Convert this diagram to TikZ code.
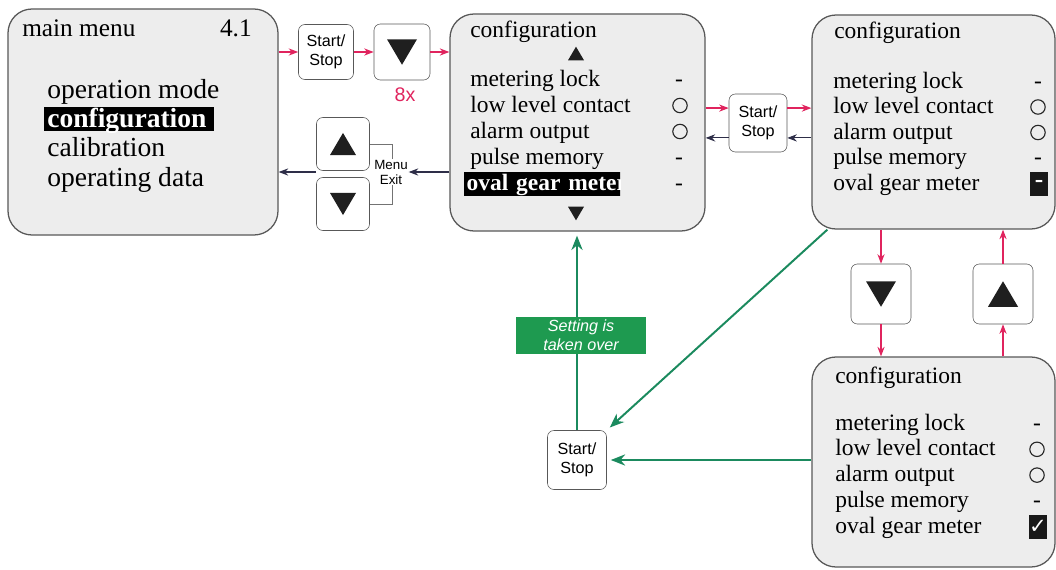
\documentclass[tikz,border=0pt]{standalone}
\usepackage{fontspec}
\setmainfont{Liberation Serif}
\setsansfont{Liberation Sans}
\newfontfamily\mnsym{DejaVu Sans}
\usetikzlibrary{arrows.meta}

\definecolor{cred}{HTML}{E0245E}
\definecolor{cnavy}{HTML}{2E2E48}
\definecolor{cgrn}{HTML}{1B8A5E}
\definecolor{ctag}{HTML}{1E9A50}
\definecolor{cfill}{HTML}{EDEDED}
\definecolor{cline}{HTML}{585858}

\tikzset{mnscr/.style={draw=cline,fill=cfill,rounded corners=6mm,line width=0.9pt},
         mnbtn/.style={draw=cline,fill=white,rounded corners=1.6mm,minimum size=14mm,inner sep=0pt,
                       font=\sffamily\fontsize{11.5}{13.5}\selectfont,align=center},
         mnhead/.style={anchor=base west,inner sep=0pt,font=\fontsize{18}{21}\selectfont},
         mnbig/.style={anchor=base west,inner sep=0pt,font=\fontsize{19.6}{23}\selectfont},
         mntxt/.style={anchor=base west,inner sep=0pt,font=\fontsize{16.7}{20}\selectfont},
         mnsel/.style={fill=black,text=white,inner xsep=0.75mm,inner ysep=0pt,text height=14.2pt,
                       text depth=3pt,align=left,execute at begin node=\bfseries},
         mndash/.style={anchor=base,inner sep=0pt,font=\fontsize{16.7}{20}\selectfont},
         mncirc/.style={circle,draw=black!85,line width=0.8pt,minimum size=3.6mm,inner sep=0pt},
         mnchk/.style={fill=black!90,minimum width=4.4mm,minimum height=6mm,inner sep=0pt,text=white},
         mntri/.style={fill=black!88},
         mnsmall/.style={font=\sffamily\fontsize{9.5}{10.7}\selectfont,align=center,fill=white,inner sep=0.5pt},
         mntag/.style={fill=ctag,text=white,minimum width=32.5mm,minimum height=9.25mm,inner sep=0pt,
                       font=\sffamily\itshape\fontsize{11.5}{13.5}\selectfont,align=center},
         mnbrk/.style={draw=black!55,line width=0.6pt},
         arrred/.style={draw=cred,line width=0.85pt,-{Stealth[length=2.4mm,width=1.8mm]}},
         arrnavy/.style={draw=cnavy,line width=0.75pt,-{Stealth[length=2.4mm,width=1.8mm]}},
         arrgrn/.style={draw=cgrn,line width=1.4pt,shorten >=1mm,-{Stealth[length=3.6mm,width=2.8mm]}}}

\newcommand{\mndown}[2]{\fill[mntri,shift={(#1)},scale=#2] (-1,-0.85) -- (1,-0.85) -- (0,0.85) -- cycle;}
\newcommand{\mnup}[2]{\fill[mntri,shift={(#1)},scale=#2] (-1,0.85) -- (1,0.85) -- (0,-0.85) -- cycle;}

\begin{document}
\begin{tikzpicture}[x=0.25mm,y=-0.25mm]
  \useasboundingbox (0,0) rectangle (1056,569);
  % screens
  \node[mnscr,minimum width=67.5mm,minimum height=56.5mm] (main) at (143,122) {};
  \node[mnscr,minimum width=63.75mm,minimum height=54.25mm] (cfgA) at (577.5,122.5) {};
  \node[mnscr,minimum width=60.75mm,minimum height=53.5mm] (cfgB) at (933.5,122) {};
  \node[mnscr,minimum width=60.75mm,minimum height=52.5mm] (cfgC) at (933.5,462) {};
  % main menu
  \node[mnhead] (mtitle) at (22,36) {main menu};
  \node[mnhead,anchor=base east] (mver) at (252,36) {4.1};
  \node[mnbig] (m0) at (47,98) {operation mode};
  \node[mnbig,mnsel,text width=41mm] (m1) at (44,127) {configuration};
  \node[mnbig] (m2) at (47,156.5) {calibration};
  \node[mnbig] (m3) at (47,186) {operating data};
  % configuration, first screen
  \node[mntxt] (atitle) at (470,37) {configuration};
  \mnup{576,53.5}{8}
  \foreach \t [count=\i from 0] in {metering lock,low level contact,alarm output,pulse memory}
    \node[mntxt] (a\i) at (470,{86+26*\i}) {\t};
  \begin{scope}
    \clip (464,160) rectangle (620,200);
    \node[mntxt,mnsel,text width=42mm,text height=12.8pt,text depth=4.3pt,inner xsep=0.6mm] (a4) at (464,190) {oval gear meter};
  \end{scope}
  \mndown{576,213.5}{8}
  \foreach \i in {0,3,4} \node[mndash] (ad\i) at (679,{86+26*\i}) {-};
  \foreach \i in {1,2} \node[mncirc] (ac\i) at (680,{79.5+26*\i}) {};
  % configuration, second screen
  \node[mntxt] (btitle) at (834,38) {configuration};
  \foreach \t [count=\i from 0] in {metering lock,low level contact,alarm output,pulse memory,oval gear meter}
    \node[mntxt] (b\i) at (833,{88+25.5*\i}) {\t};
  \foreach \i in {0,3} \node[mndash] (bd\i) at (1038,{88+25.5*\i}) {-};
  \foreach \i in {1,2} \node[mncirc] (bc\i) at (1038,{81.5+25.5*\i}) {};
  \node[mnchk,font=\bfseries\fontsize{18}{18}\selectfont] (bchk) at (1039,184) {-};
  % configuration, third screen
  \node[mntxt] (ctitle) at (835,383) {configuration};
  \foreach \t [count=\i from 0] in {metering lock,low level contact,alarm output,pulse memory,oval gear meter}
    \node[mntxt] (c\i) at (835,{430+25.8*\i}) {\t};
  \foreach \i in {0,3} \node[mndash] (cd\i) at (1037,{430+25.8*\i}) {-};
  \foreach \i in {1,2} \node[mncirc] (cc\i) at (1037,{423.5+25.8*\i}) {};
  \node[mnchk,font=\mnsym\fontsize{15}{15}\selectfont] (cchk) at (1038,527) {✓};
  % keys
  \node[mnbtn,minimum size=13.75mm] (ss1) at (326,52) {Start/\\Stop};
  \node[mnbtn] (dn1) at (402,52) {};
  \node[font=\sffamily\fontsize{14}{14}\selectfont,text=cred] (times) at (405,95) {8x};
  \node[mnbtn,minimum size=13.25mm] (up1) at (343,144) {};
  \node[mnbtn,minimum size=13.25mm] (dn2) at (343,204) {};
  \node[mnbtn,minimum size=14.5mm] (ss2) at (758,123) {Start/\\Stop};
  \node[mnbtn,minimum size=15mm] (dn3) at (881,294) {};
  \node[mnbtn,minimum size=15mm] (up3) at (1003,294) {};
  \node[mnbtn,minimum size=14.75mm] (ss3) at (577,460) {Start/\\Stop};
  \mndown{dn1}{15} \mnup{up1}{13} \mndown{dn2}{13} \mndown{dn3}{15} \mnup{up3}{15}
  % menu exit
  \draw[mnbrk] (up1.east) -- ++(23,0) |- (dn2.east);
  \node[mnsmall] (mexit) at (391,172) {Menu\\Exit};
  % arrows
  \draw[arrred] (main.east |- ss1) -- (ss1);
  \draw[arrred] (ss1) -- (dn1);
  \draw[arrred] (dn1) -- (dn1 -| cfgA.west);
  \draw[arrred] (cfgA.east |- ss2.153) -- (ss2.153);
  \draw[arrred] (ss2.27) -- (ss2.27 -| cfgB.west);
  \draw[arrnavy] (cfgB.west |- ss2.333) -- (ss2.333);
  \draw[arrnavy] (ss2.207) -- (ss2.207 -| cfgA.east);
  \draw[arrnavy] (cfgA.west |- mexit) -- (mexit);
  \draw[arrnavy] (up1.west |- mexit) -- (main.east |- mexit);
  \draw[arrred] (cfgB.south -| dn3) -- (dn3);
  \draw[arrred] (dn3) -- (dn3 |- cfgC.north);
  \draw[arrred] (cfgC.north -| up3) -- (up3);
  \draw[arrred] (up3) -- (up3 |- cfgB.south);
  \draw[arrgrn] (cfgC.west |- ss3) -- (ss3);
  \draw[arrgrn] ([xshift=4mm]cfgB.south west) -- (ss3.north east);
  \draw[arrgrn] (ss3) -- (ss3 |- cfgA.south);
  \node[mntag] (taken) at (581,335) {Setting is\\taken over};
\end{tikzpicture}
\end{document}
